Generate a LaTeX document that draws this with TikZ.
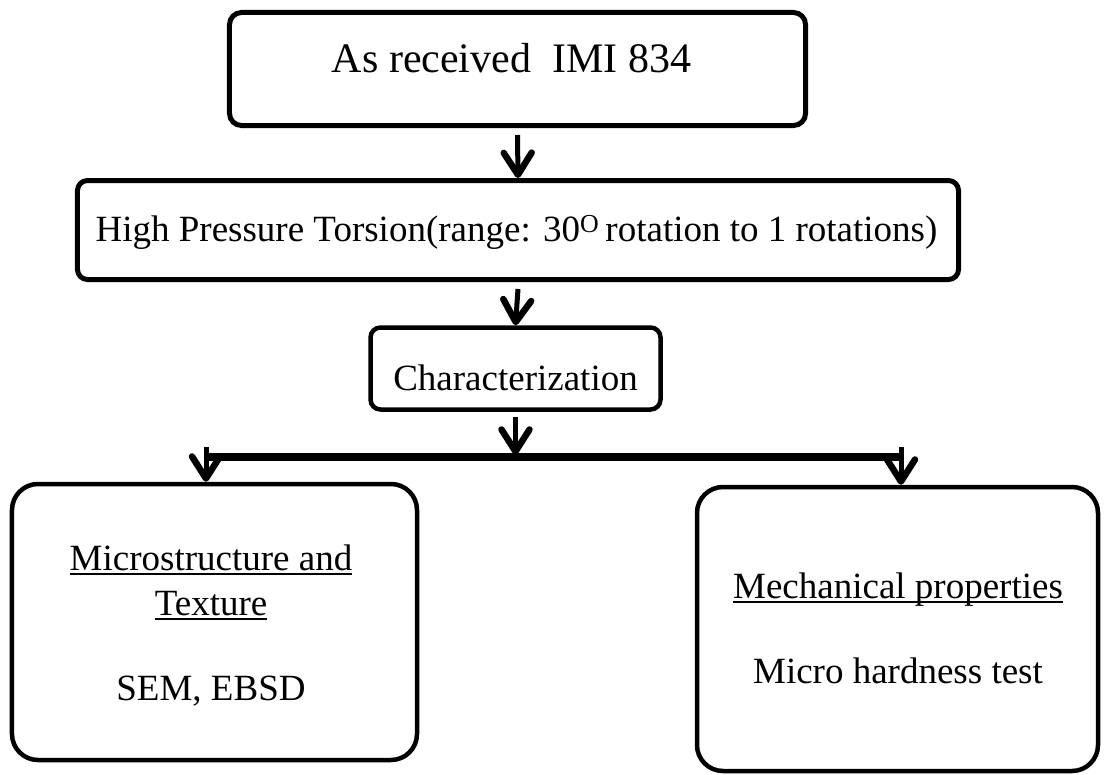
\documentclass[tikz,border=0pt]{standalone}
\usepackage{fontspec}
\setmainfont{Liberation Serif}
\usetikzlibrary{arrows.meta}
\usetikzlibrary{calc}

\newsavebox{\ulbox}
\newcommand{\undertext}[1]{\sbox{\ulbox}{#1}\rlap{\rule[-4.5bp]{\wd\ulbox}{1.8bp}}\usebox{\ulbox}}

\begin{document}
\begin{tikzpicture}[x=1bp, y=-1bp]
    \tikzstyle{stage} = [
      draw=black,
      line width=5bp,
      rounded corners=12bp,
      inner sep=0pt,
    ]
    \tikzstyle{result} = [
      stage,
      line width=4.5bp,
      rounded corners=26bp,
    ]
    \tikzstyle{stagetext} = [
      anchor=base,
      inner sep=0pt,
      font=\fontsize{37bp}{44bp}\selectfont,
    ]
    \tikzstyle{arrow} = [
      line width=5bp,
      -{Straight Barb[round, length=22bp, width=28bp, line width=6.5bp]},
      draw=black,
    ]
    \tikzstyle{branchline} = [
      line width=8bp,
      draw=black,
    ]

    \newcommand{\arrowgap}[0]{7bp}
    \newcommand{\branchdrop}[0]{43bp}

    \useasboundingbox (0,0) rectangle (1106,775);

    % as received
    {
      \node[stage, minimum width=576bp, minimum height=113bp] (receivedBox) at (517.5,69) {};
      \node[stagetext, font=\fontsize{42bp}{50bp}\selectfont] (receivedText)
        at ([xshift=-6bp, yshift=-4bp] receivedBox.center) {As received\ \ IMI 834};
    }

    % high pressure torsion
    {
      \node[stage, rounded corners=10bp, minimum width=881bp, minimum height=99bp] (hptBox) at (518,230) {};
      \node[stagetext] (hptText) at ([xshift=-1.5bp, yshift=-11bp] hptBox.center)
        {High Pressure Torsion(range: 30\textsuperscript{O}\,rotation to 1 rotations)};
    }

    % characterization
    {
      \node[stage, rounded corners=10bp, line width=4.5bp, minimum width=290bp, minimum height=82bp] (charBox) at (515.5,368.5) {};
      \node[stagetext] (charText) at ([yshift=-21.5bp] charBox.center) {Characterization};
    }

    % microstructure
    {
      \node[result, minimum width=405bp, minimum height=276bp] (microBox) at (214.5,622) {};
      \node[stagetext] (microTitleI)  at ([xshift=-3.5bp, yshift=52bp] microBox.center) {\undertext{Microstructure and}};
      \node[stagetext] (microTitleII) at ([xshift=-3.5bp, yshift=7bp] microBox.center) {\undertext{Texture}};
      \node[stagetext] (microTools)   at ([xshift=-3.5bp, yshift=-78bp] microBox.center) {SEM, EBSD};
    }

    % mechanical
    {
      \node[result, minimum width=401bp, minimum height=284bp] (mechBox) at (897.5,629) {};
      \node[stagetext] (mechTitle) at ([xshift=0.5bp, yshift=31bp] mechBox.center) {\undertext{Mechanical properties}};
      \node[stagetext] (mechTools) at ([xshift=0.5bp, yshift=-54bp] mechBox.center) {Micro hardness test};
    }

    % arrows
    {
      \draw[arrow] ([yshift=-\arrowgap] receivedBox.south) -- (hptBox.north);
      \draw[arrow] ([yshift=-\arrowgap] hptBox.south) -- (charBox.north);
    }

    % branch
    {
      \coordinate (branchMid) at ([yshift=-\branchdrop] charBox.south);
      \coordinate (branchLeft) at (206,457);
      \coordinate (branchRight) at (901,457);
      \draw[arrow] ([yshift=-5bp] charBox.south) -- (branchMid);
      \draw[branchline] (branchLeft) -- (branchRight);
      \draw[arrow] ([yshift=10bp] branchLeft) -- (branchLeft |- microBox.north);
      \draw[arrow] ([yshift=10bp] branchRight) -- (branchRight |- mechBox.north);
    }
\end{tikzpicture}
\end{document}
